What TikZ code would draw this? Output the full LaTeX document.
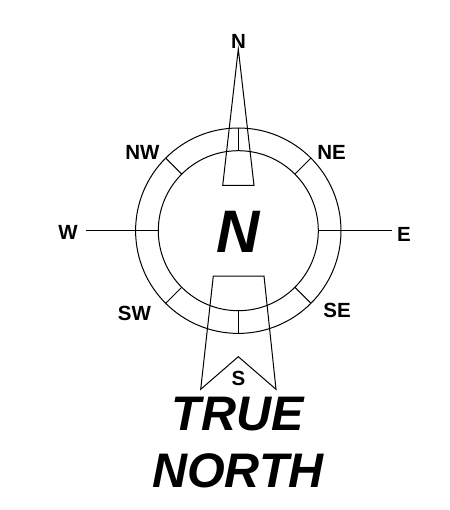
\documentclass[tikz,border=0pt]{standalone}
\usepackage{fontspec}
\setmainfont{Liberation Sans}
\usetikzlibrary{calc}
\tikzset{
  line/.style={draw=black,line width=1pt,line join=miter},
  lab/.style={font=\bfseries\fontsize{20.5}{23}\selectfont,inner sep=0pt,text=black},
  big/.style={font=\bfseries\itshape\fontsize{48.5}{54}\selectfont,inner sep=0pt,text=black},
}
\begin{document}
\begin{tikzpicture}[x=1pt,y=-1pt]
\useasboundingbox (0,0) rectangle (449,510);
\coordinate (c) at (238.3,230.7);
\draw[line] (c) circle[radius=102.7];
\draw[line] (c) circle[radius=80];
% ticks
\foreach \a in {45,135,225,315,90,270}{
  \draw[line] ($(c)+(\a:80)$) -- ($(c)+(\a:102.7)$);
}
\draw[line] (86,230.7) coordinate (wf) -- (158.3,230.7) coordinate (wt);
\draw[line,line width=1.3pt] (318.3,230.7) coordinate (ef) -- (341,230.7) coordinate (em);
\draw[line] (em) -- (392,230.7) coordinate (et);
% needles
\draw[line] (238.3,49) coordinate (nt) -- (254,185.5) -- (222.7,185.5) -- cycle;
\draw[line] (213.3,276) -- (264,276) -- (276,389.3) -- (238.3,356.7) -- (200.7,389.3) -- cycle;
% labels
\node[lab] (ln) at (238.5,41) {N};
\node[lab] (lnw) at (142.5,152) {NW};
\node[lab] (lne) at (331.5,152) {NE};
\node[lab] (lw) at (68,232) {W};
\node[lab] (le) at (404,234) {E};
\node[lab] (lsw) at (134.5,313.5) {SW};
\node[lab] (lse) at (337,310) {SE};
\node[lab] (ls) at (238.5,378) {S};
\node[big,font=\bfseries\itshape\fontsize{60}{60}\selectfont] (cn) at (238,232) {N};
\node[big] (t1) at (238,414.5) {TRUE};
\node[big] (t2) at (238,470.5) {NORTH};
\end{tikzpicture}
\end{document}
